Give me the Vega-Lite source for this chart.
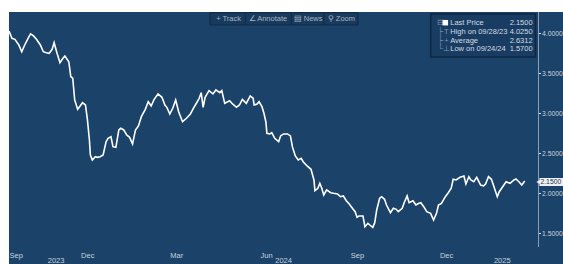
{
  "$schema": "https://vega.github.io/schema/vega-lite/v6.json",
  "width": 554,
  "height": 252,
  "autosize": "none",
  "padding": {"left": 9, "top": 12, "right": 0, "bottom": 0},
  "background": "white",
  "config": {
    "view": {"stroke": null, "fill": "#1b436a"},
    "font": "Liberation Sans Narrow, Liberation Sans, sans-serif"
  },
  "resolve": {"axis": {"x": "independent"}},
  "layer": [
    {
      "data": {"values": [
        {"date":"2023-09-19","price":4.025},{"date":"2023-09-22","price":3.934},{"date":"2023-09-25","price":3.921},{"date":"2023-09-29","price":3.85},
        {"date":"2023-10-02","price":3.766},{"date":"2023-10-05","price":3.85},{"date":"2023-10-09","price":3.946},{"date":"2023-10-11","price":3.988},
        {"date":"2023-10-14","price":3.963},{"date":"2023-10-17","price":3.921},{"date":"2023-10-21","price":3.85},{"date":"2023-10-24","price":3.766},
        {"date":"2023-10-27","price":3.754},{"date":"2023-10-30","price":3.746},{"date":"2023-11-02","price":3.796},{"date":"2023-11-04","price":3.879},
        {"date":"2023-11-07","price":3.746},{"date":"2023-11-10","price":3.629},{"date":"2023-11-13","price":3.684},{"date":"2023-11-15","price":3.713},
        {"date":"2023-11-19","price":3.641},{"date":"2023-11-21","price":3.454},{"date":"2023-11-23","price":3.434},{"date":"2023-11-25","price":3.163},
        {"date":"2023-11-28","price":3.046},{"date":"2023-11-30","price":3.079},{"date":"2023-12-03","price":3.129},{"date":"2023-12-06","price":3.1},
        {"date":"2023-12-08","price":2.913},{"date":"2023-12-10","price":2.663},{"date":"2023-12-11","price":2.475},{"date":"2023-12-13","price":2.413},
        {"date":"2023-12-16","price":2.454},{"date":"2023-12-18","price":2.446},{"date":"2023-12-21","price":2.454},{"date":"2023-12-24","price":2.475},
        {"date":"2023-12-27","price":2.641},{"date":"2023-12-29","price":2.684},{"date":"2024-01-01","price":2.704},{"date":"2024-01-03","price":2.579},
        {"date":"2024-01-06","price":2.571},{"date":"2024-01-09","price":2.788},{"date":"2024-01-11","price":2.809},{"date":"2024-01-14","price":2.788},
        {"date":"2024-01-17","price":2.725},{"date":"2024-01-20","price":2.696},{"date":"2024-01-23","price":2.613},{"date":"2024-01-26","price":2.788},
        {"date":"2024-01-29","price":2.838},{"date":"2024-02-01","price":2.954},{"date":"2024-02-05","price":3.046},{"date":"2024-02-08","price":3.141},
        {"date":"2024-02-11","price":3.088},{"date":"2024-02-14","price":3.171},{"date":"2024-02-18","price":3.238},{"date":"2024-02-22","price":3.196},
        {"date":"2024-02-25","price":3.1},{"date":"2024-02-27","price":3.071},{"date":"2024-03-01","price":2.988},{"date":"2024-03-04","price":3.059},
        {"date":"2024-03-07","price":3.163},{"date":"2024-03-10","price":3.016},{"date":"2024-03-14","price":2.891},{"date":"2024-03-18","price":2.934},
        {"date":"2024-03-22","price":2.988},{"date":"2024-03-25","price":3.059},{"date":"2024-03-29","price":3.141},{"date":"2024-03-31","price":3.184},
        {"date":"2024-04-02","price":3.254},{"date":"2024-04-04","price":3.071},{"date":"2024-04-06","price":3.196},{"date":"2024-04-10","price":3.279},
        {"date":"2024-04-14","price":3.238},{"date":"2024-04-17","price":3.288},{"date":"2024-04-21","price":3.254},{"date":"2024-04-23","price":3.279},
        {"date":"2024-04-26","price":3.121},{"date":"2024-05-01","price":3.154},{"date":"2024-05-04","price":3.113},{"date":"2024-05-08","price":3.071},
        {"date":"2024-05-11","price":3.1},{"date":"2024-05-14","price":3.171},{"date":"2024-05-18","price":3.121},{"date":"2024-05-22","price":3.213},
        {"date":"2024-05-25","price":3.184},{"date":"2024-05-26","price":3.1},{"date":"2024-05-29","price":3.113},{"date":"2024-05-31","price":3.141},
        {"date":"2024-06-03","price":3.079},{"date":"2024-06-05","price":2.996},{"date":"2024-06-07","price":2.888},{"date":"2024-06-08","price":2.746},
        {"date":"2024-06-11","price":2.738},{"date":"2024-06-13","price":2.754},{"date":"2024-06-16","price":2.684},{"date":"2024-06-20","price":2.641},
        {"date":"2024-06-22","price":2.713},{"date":"2024-06-25","price":2.738},{"date":"2024-06-29","price":2.738},{"date":"2024-07-02","price":2.713},
        {"date":"2024-07-04","price":2.579},{"date":"2024-07-07","price":2.463},{"date":"2024-07-10","price":2.413},{"date":"2024-07-13","price":2.434},
        {"date":"2024-07-15","price":2.391},{"date":"2024-07-19","price":2.338},{"date":"2024-07-23","price":2.296},{"date":"2024-07-26","price":2.163},
        {"date":"2024-07-27","price":2.029},{"date":"2024-07-30","price":2.059},{"date":"2024-08-01","price":2.121},{"date":"2024-08-03","price":2.059},
        {"date":"2024-08-05","price":1.975},{"date":"2024-08-08","price":2.038},{"date":"2024-08-12","price":2.004},{"date":"2024-08-15","price":1.996},
        {"date":"2024-08-19","price":1.988},{"date":"2024-08-22","price":1.954},{"date":"2024-08-25","price":1.963},{"date":"2024-08-28","price":1.904},
        {"date":"2024-08-31","price":1.863},{"date":"2024-09-04","price":1.796},{"date":"2024-09-06","price":1.766},{"date":"2024-09-08","price":1.696},
        {"date":"2024-09-10","price":1.713},{"date":"2024-09-14","price":1.713},{"date":"2024-09-16","price":1.579},{"date":"2024-09-19","price":1.621},
        {"date":"2024-09-21","price":1.6},{"date":"2024-09-24","price":1.57},{"date":"2024-09-26","price":1.629},{"date":"2024-09-28","price":1.788},
        {"date":"2024-10-01","price":1.934},{"date":"2024-10-03","price":1.954},{"date":"2024-10-06","price":1.921},{"date":"2024-10-08","price":1.85},
        {"date":"2024-10-12","price":1.754},{"date":"2024-10-15","price":1.809},{"date":"2024-10-18","price":1.796},{"date":"2024-10-20","price":1.766},
        {"date":"2024-10-24","price":1.809},{"date":"2024-10-26","price":1.879},{"date":"2024-10-29","price":1.963},{"date":"2024-10-31","price":1.879},
        {"date":"2024-11-04","price":1.904},{"date":"2024-11-07","price":1.85},{"date":"2024-11-10","price":1.871},{"date":"2024-11-12","price":1.879},
        {"date":"2024-11-15","price":1.829},{"date":"2024-11-18","price":1.766},{"date":"2024-11-22","price":1.746},{"date":"2024-11-25","price":1.663},
        {"date":"2024-11-28","price":1.746},{"date":"2024-11-30","price":1.85},{"date":"2024-12-03","price":1.871},{"date":"2024-12-07","price":1.954},
        {"date":"2024-12-10","price":2.004},{"date":"2024-12-13","price":2.059},{"date":"2024-12-15","price":2.171},{"date":"2024-12-18","price":2.163},
        {"date":"2024-12-22","price":2.196},{"date":"2024-12-26","price":2.213},{"date":"2024-12-28","price":2.113},{"date":"2024-12-31","price":2.204},
        {"date":"2025-01-02","price":2.163},{"date":"2025-01-05","price":2.141},{"date":"2025-01-08","price":2.196},{"date":"2025-01-12","price":2.1},
        {"date":"2025-01-15","price":2.088},{"date":"2025-01-17","price":2.113},{"date":"2025-01-20","price":2.204},{"date":"2025-01-23","price":2.171},
        {"date":"2025-01-25","price":2.1},{"date":"2025-01-29","price":1.954},{"date":"2025-01-31","price":2.016},{"date":"2025-02-04","price":2.088},
        {"date":"2025-02-07","price":2.141},{"date":"2025-02-11","price":2.121},{"date":"2025-02-15","price":2.163},{"date":"2025-02-17","price":2.175},
        {"date":"2025-02-20","price":2.141},{"date":"2025-02-23","price":2.1},{"date":"2025-02-26","price":2.15}
      ]},
      "mark": {"type": "line", "color": "white", "strokeWidth": 1.6},
      "encoding": {
        "x": {
          "field": "date", "type": "temporal",
          "scale": {"type": "utc", "domain": [{"year": 2023, "month": 9, "date": 19, "utc": true}, {"year": 2025, "month": 4, "date": 6, "utc": true}]},
          "axis": {
            "orient": "bottom", "offset": -16, "title": null, "grid": false, "domain": false, "ticks": false,
            "values": [
              {"year": 2023, "month": 9, "date": 19, "utc": true},
              {"year": 2023, "month": 12, "date": 1, "utc": true},
              {"year": 2024, "month": 3, "date": 1, "utc": true},
              {"year": 2024, "month": 6, "date": 1, "utc": true},
              {"year": 2024, "month": 9, "date": 1, "utc": true},
              {"year": 2024, "month": 12, "date": 1, "utc": true}
            ],
            "labelExpr": "utcFormat(datum.value, '%b')",
            "labelAlign": "left", "labelBaseline": "top", "labelPadding": 3,
            "labelColor": "#c8d2dc", "labelFontSize": 7.5, "labelOverlap": false, "labelFlush": false
          }
        },
        "y": {
          "field": "price", "type": "quantitative",
          "scale": {"domain": [1.1125, 4.2625], "zero": false, "nice": false},
          "axis": {
            "orient": "right", "offset": -25, "title": null, "grid": false, "domain": false,
            "values": [1.5, 1.75, 2, 2.25, 2.5, 2.75, 3, 3.25, 3.5, 3.75, 4],
            "labelExpr": "(datum.value * 2) % 1 == 0 ? format(datum.value, '.4f') : ''",
            "tickSize": 2.5, "tickColor": "#dfe6ee", "tickWidth": 1,
            "labelPadding": 1, "labelColor": "#c8d2dc", "labelFontSize": 6.8,
            "labelAlign": "left", "labelBaseline": "middle", "labelOverlap": false
          }
        }
      }
    },
    {
      "data": {"values": [{}]},
      "mark": {"type": "rule", "color": "#8aa0b8", "strokeWidth": 1},
      "encoding": {
        "x": {
          "datum": {"year": 2025, "month": 3, "date": 12, "utc": true}, "type": "temporal",
          "axis": {
            "orient": "bottom", "offset": -16, "title": null, "grid": false, "domain": false, "ticks": false,
            "values": [
              {"year": 2023, "month": 10, "date": 28, "utc": true},
              {"year": 2024, "month": 6, "date": 16, "utc": true},
              {"year": 2025, "month": 1, "date": 25, "utc": true}
            ],
            "labelExpr": "utcFormat(datum.value, '%Y')",
            "labelAlign": "left", "labelBaseline": "top", "labelPadding": 8,
            "labelColor": "#c8d2dc", "labelFontSize": 7.5, "labelOverlap": false, "labelFlush": false
          }
        },
        "y": {"datum": 4.2625, "type": "quantitative", "axis": {"title": null}},
        "y2": {"datum": 1.325}
      }
    },
    {
      "data": {"values": [{}]},
      "mark": {"type": "rect", "fill": "#183a5d", "stroke": "#0f2b47", "strokeWidth": 1},
      "encoding": {
        "x": {"datum": {"year": 2024, "month": 4, "date": 11, "utc": true}, "type": "temporal", "axis": null},
        "x2": {"datum": {"year": 2024, "month": 9, "date": 9, "utc": true}},
        "y": {"datum": 4.255, "type": "quantitative", "axis": {"title": null}},
        "y2": {"datum": 4.1}
      }
    },
    {
      "data": {"values": [{}]},
      "mark": {"type": "rule", "color": "#0f2b47", "strokeWidth": 1},
      "encoding": {
        "x": {"datum": {"year": 2024, "month": 5, "date": 17, "utc": true}, "type": "temporal", "axis": null},
        "y": {"datum": 4.255, "type": "quantitative", "axis": {"title": null}},
        "y2": {"datum": 4.1}
      }
    },
    {
      "data": {"values": [{}]},
      "mark": {"type": "rule", "color": "#0f2b47", "strokeWidth": 1},
      "encoding": {
        "x": {"datum": {"year": 2024, "month": 7, "date": 3, "utc": true}, "type": "temporal", "axis": null},
        "y": {"datum": 4.255, "type": "quantitative", "axis": {"title": null}},
        "y2": {"datum": 4.1}
      }
    },
    {
      "data": {"values": [{}]},
      "mark": {"type": "rule", "color": "#0f2b47", "strokeWidth": 1},
      "encoding": {
        "x": {"datum": {"year": 2024, "month": 8, "date": 5, "utc": true}, "type": "temporal", "axis": null},
        "y": {"datum": 4.255, "type": "quantitative", "axis": {"title": null}},
        "y2": {"datum": 4.1}
      }
    },
    {
      "data": {"values": [{}]},
      "mark": {"type": "text", "color": "#a9b6c4", "fontSize": 7.5, "align": "center", "baseline": "middle"},
      "encoding": {
        "x": {"datum": {"year": 2024, "month": 4, "date": 30, "utc": true}, "type": "temporal", "axis": null},
        "y": {"datum": 4.18, "type": "quantitative", "axis": {"title": null}},
        "text": {"value": "+ Track"}
      }
    },
    {
      "data": {"values": [{}]},
      "mark": {"type": "text", "color": "#a9b6c4", "fontSize": 7.5, "align": "center", "baseline": "middle"},
      "encoding": {
        "x": {"datum": {"year": 2024, "month": 6, "date": 9, "utc": true}, "type": "temporal", "axis": null},
        "y": {"datum": 4.18, "type": "quantitative", "axis": {"title": null}},
        "text": {"value": "∠ Annotate"}
      }
    },
    {
      "data": {"values": [{}]},
      "mark": {"type": "text", "color": "#a9b6c4", "fontSize": 7.5, "align": "center", "baseline": "middle"},
      "encoding": {
        "x": {"datum": {"year": 2024, "month": 7, "date": 20, "utc": true}, "type": "temporal", "axis": null},
        "y": {"datum": 4.18, "type": "quantitative", "axis": {"title": null}},
        "text": {"value": "▤ News"}
      }
    },
    {
      "data": {"values": [{}]},
      "mark": {"type": "text", "color": "#a9b6c4", "fontSize": 7.5, "align": "center", "baseline": "middle"},
      "encoding": {
        "x": {"datum": {"year": 2024, "month": 8, "date": 23, "utc": true}, "type": "temporal", "axis": null},
        "y": {"datum": 4.18, "type": "quantitative", "axis": {"title": null}},
        "text": {"value": "⚲ Zoom"}
      }
    },
    {
      "data": {"values": [{}]},
      "mark": {"type": "rect", "fill": "#193d62", "stroke": "#0d2742", "strokeWidth": 1.5},
      "encoding": {
        "x": {"datum": {"year": 2024, "month": 11, "date": 22, "utc": true}, "type": "temporal", "axis": null},
        "x2": {"datum": {"year": 2025, "month": 3, "date": 9, "utc": true}},
        "y": {"datum": 4.2375, "type": "quantitative", "axis": {"title": null}},
        "y2": {"datum": 3.7}
      }
    },
    {
      "data": {"values": [{}]},
      "mark": {"type": "text", "color": "#7f93a8", "fontSize": 7.5, "align": "center", "baseline": "alphabetic", "lineHeight": 8.7},
      "encoding": {
        "x": {"datum": {"year": 2024, "month": 12, "date": 2, "utc": true}, "type": "temporal", "axis": null},
        "y": {"datum": 4.095, "type": "quantitative", "axis": {"title": null}},
        "text": {"value": ["⊟", "├", "├", "└"]}
      }
    },
    {
      "data": {"values": [{}]},
      "mark": {"type": "text", "color": "#7f93a8", "fontSize": 7.5, "align": "center", "baseline": "alphabetic", "lineHeight": 8.7},
      "encoding": {
        "x": {"datum": {"year": 2024, "month": 12, "date": 8, "utc": true}, "type": "temporal", "axis": null},
        "y": {"datum": 4.095, "type": "quantitative", "axis": {"title": null}},
        "text": {"value": [" ", "T", "+", "⊥"]}
      }
    },
    {
      "data": {"values": [{}]},
      "mark": {"type": "point", "shape": "square", "filled": true, "color": "white", "size": 30, "opacity": 1},
      "encoding": {
        "x": {"datum": {"year": 2024, "month": 12, "date": 7, "utc": true}, "type": "temporal", "axis": null},
        "y": {"datum": 4.1288, "type": "quantitative", "axis": {"title": null}}
      }
    },
    {
      "data": {"values": [{}]},
      "mark": {"type": "text", "color": "#d3dbe4", "fontSize": 7.5, "align": "left", "baseline": "alphabetic", "lineHeight": 8.7},
      "encoding": {
        "x": {"datum": {"year": 2024, "month": 12, "date": 12, "utc": true}, "type": "temporal", "axis": null},
        "y": {"datum": 4.095, "type": "quantitative", "axis": {"title": null}},
        "text": {"value": ["Last Price", "High on 09/28/23", "Average", "Low on 09/24/24"]}
      }
    },
    {
      "data": {"values": [{}]},
      "mark": {"type": "text", "color": "#d3dbe4", "fontSize": 7.5, "align": "right", "baseline": "alphabetic", "lineHeight": 8.7},
      "encoding": {
        "x": {"datum": {"year": 2025, "month": 3, "date": 6, "utc": true}, "type": "temporal", "axis": null},
        "y": {"datum": 4.095, "type": "quantitative", "axis": {"title": null}},
        "text": {"value": ["2.1500", "4.0250", "2.6312", "1.5700"]}
      }
    },
    {
      "data": {"values": [{}]},
      "mark": {"type": "point", "shape": "triangle-left", "filled": true, "color": "#eef1f4", "size": 25, "opacity": 1},
      "encoding": {
        "x": {"datum": {"year": 2025, "month": 3, "date": 12, "utc": true}, "type": "temporal", "axis": null},
        "y": {"datum": 2.1375, "type": "quantitative", "axis": {"title": null}}
      }
    },
    {
      "data": {"values": [{}]},
      "mark": {"type": "rect", "fill": "#eef1f4"},
      "encoding": {
        "x": {"datum": {"year": 2025, "month": 3, "date": 13, "utc": true}, "type": "temporal", "axis": null},
        "x2": {"datum": {"year": 2025, "month": 4, "date": 6, "utc": true}},
        "y": {"datum": 2.1875, "type": "quantitative", "axis": {"title": null}},
        "y2": {"datum": 2.0875}
      }
    },
    {
      "data": {"values": [{}]},
      "mark": {"type": "text", "color": "#1b3550", "fontSize": 6.8, "align": "left", "baseline": "middle"},
      "encoding": {
        "x": {"datum": {"year": 2025, "month": 3, "date": 14, "utc": true}, "type": "temporal", "axis": null},
        "y": {"datum": 2.1375, "type": "quantitative", "axis": {"title": null}},
        "text": {"value": "2.1500"}
      }
    }
  ]
}
